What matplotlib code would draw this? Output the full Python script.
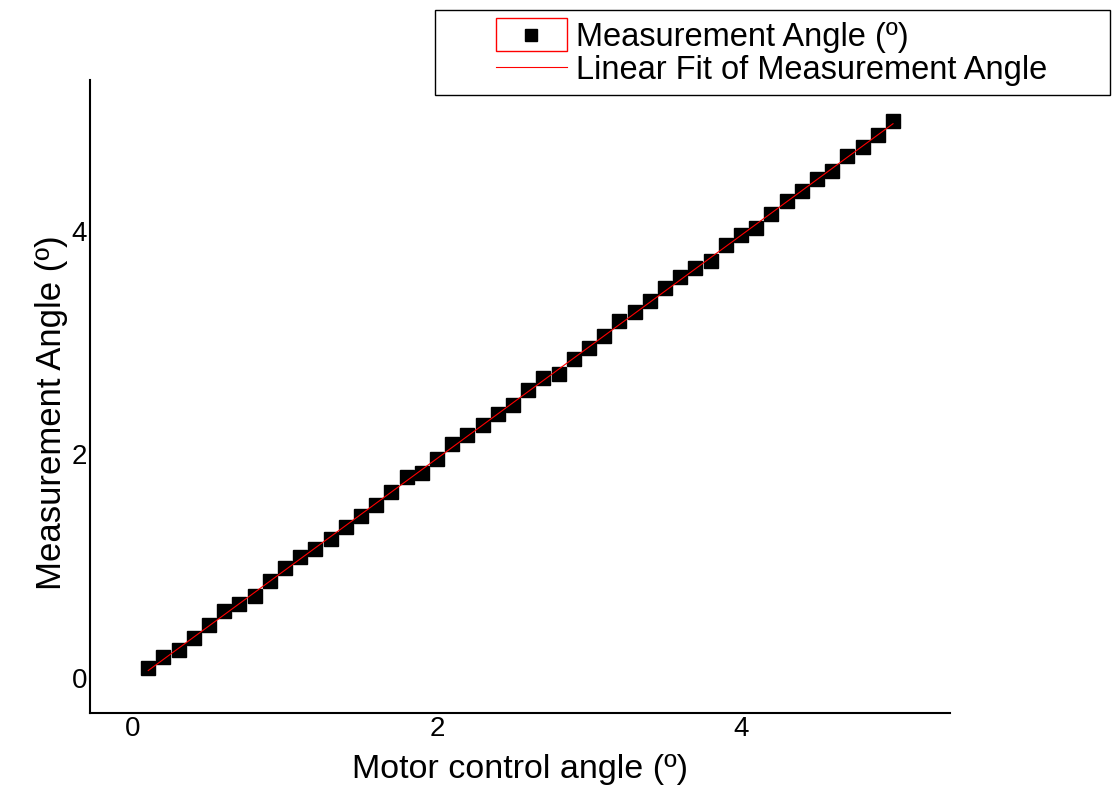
import numpy as np
import matplotlib.pyplot as plt
from matplotlib.patches import Rectangle
from matplotlib.lines import Line2D
from matplotlib.legend_handler import HandlerBase

plt.rcParams['font.family'] = ['Liberation Sans', 'DejaVu Sans']

motor = [0.1, 0.2, 0.3, 0.4, 0.5, 0.6, 0.7, 0.8, 0.9, 1.0,
         1.1, 1.2, 1.3, 1.4, 1.5, 1.6, 1.7, 1.8, 1.9, 2.0,
         2.1, 2.2, 2.3, 2.4, 2.5, 2.6, 2.7, 2.8, 2.9, 3.0,
         3.1, 3.2, 3.3, 3.4, 3.5, 3.6, 3.7, 3.8, 3.9, 4.0,
         4.1, 4.2, 4.3, 4.4, 4.5, 4.6, 4.7, 4.8, 4.9, 5.0]
measured = [0.09, 0.19, 0.25, 0.36, 0.47, 0.60, 0.66, 0.73, 0.87, 0.98,
            1.08, 1.15, 1.24, 1.35, 1.45, 1.55, 1.66, 1.80, 1.83, 1.96,
            2.09, 2.17, 2.26, 2.36, 2.44, 2.58, 2.68, 2.72, 2.85, 2.95,
            3.06, 3.19, 3.27, 3.37, 3.49, 3.59, 3.67, 3.73, 3.87, 3.96,
            4.03, 4.15, 4.27, 4.36, 4.46, 4.54, 4.67, 4.75, 4.86, 4.98]
x_ticks = [0, 2, 4]
y_ticks = [0, 2, 4]


class BoxedMarker(HandlerBase):
    # Origin style legend symbol: small square inside a red frame
    def create_artists(self, legend, orig_handle, xdescent, ydescent,
                       width, height, fontsize, trans):
        h = height * 1.45
        y0 = -ydescent + height / 2 - h / 2
        rect = Rectangle((-xdescent, y0), width, h, fc='white', ec='red',
                         lw=1, transform=trans)
        mk = Line2D([width / 2 - xdescent], [height / 2 - ydescent],
                    marker='s', ms=8, color='black', ls='none',
                    transform=trans)
        return [rect, mk]


def main():
    x = np.array(motor)
    y = np.array(measured)
    slope, intercept = np.polyfit(x, y, 1)

    fig = plt.figure(figsize=(11.19, 8.02), dpi=100)
    ax = fig.add_axes([90 / 1119, 1 - 713 / 802, 860 / 1119, 633 / 802])

    pts, = ax.plot(x, y, ls='none', marker='s', ms=10, color='black',
                   label='Measurement Angle (º)')
    fit, = ax.plot(x, slope * x + intercept, color='red', lw=0.8,
                   label='Linear Fit of Measurement Angle')

    ax.set_xlim(-0.283, 5.375)
    ax.set_ylim(-0.313, 5.35)
    ax.set_xticks(x_ticks)
    ax.set_yticks(y_ticks)
    ax.tick_params(length=0, labelsize=20, pad=2)
    for s in ['top', 'right']:
        ax.spines[s].set_visible(False)
    for s in ['left', 'bottom']:
        ax.spines[s].set_linewidth(1.5)

    ax.set_xlabel('Motor control angle (º)', fontsize=24.5, labelpad=9)
    ax.set_ylabel('Measurement Angle (º)', fontsize=25, labelpad=3)
    ax.yaxis.label.set_y(0.475)

    fig.patches.append(Rectangle((435 / 1119, 1 - 95 / 802), 675 / 1119,
                                 85 / 802, transform=fig.transFigure,
                                 fc='white', ec='black', lw=1))
    fig.legend([pts, fit], [pts.get_label(), fit.get_label()],
               handler_map={pts: BoxedMarker()},
               loc='center', bbox_to_anchor=(772 / 1119, 1 - 54 / 802),
               frameon=False, fontsize=23.5, handlelength=2.15,
               handletextpad=0.3, labelspacing=0.05, borderpad=0)

    fig.savefig('out.png', dpi=100)


if __name__ == '__main__':
    main()
